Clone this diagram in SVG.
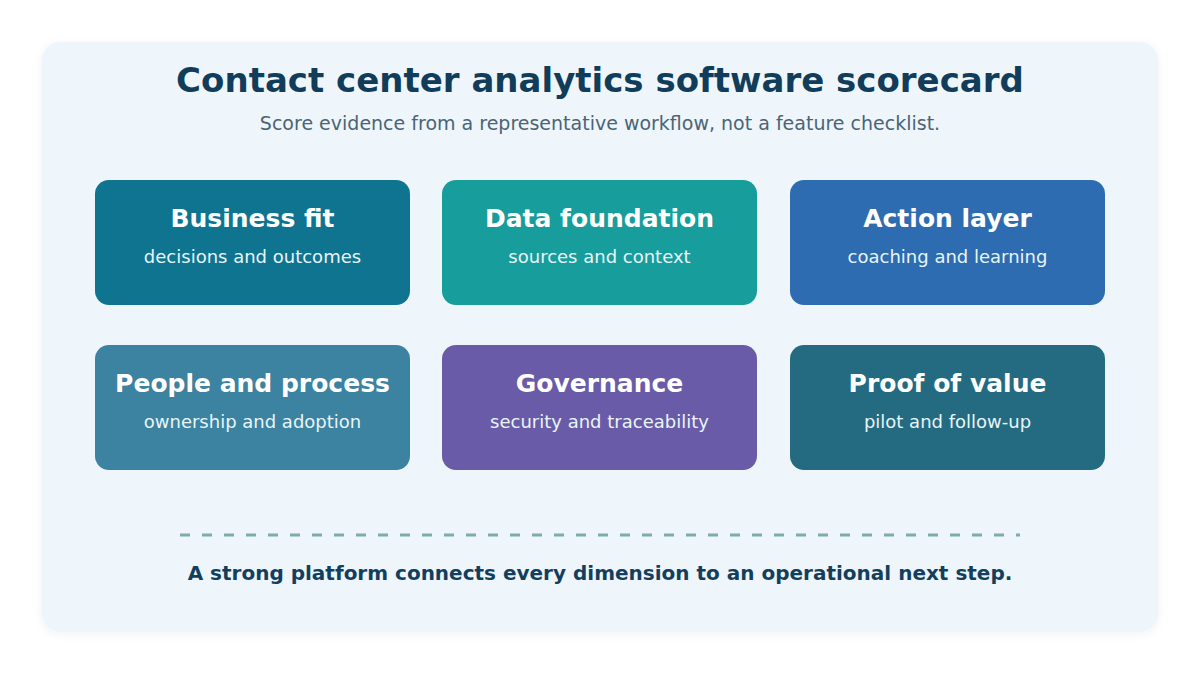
<svg xmlns="http://www.w3.org/2000/svg" width="1200" height="675" viewBox="0 0 1200 675">
  <defs>
    <filter id="sh" x="-5%" y="-5%" width="110%" height="115%">
      <feDropShadow dx="0" dy="2" stdDeviation="4" flood-color="#0f3d5c" flood-opacity="0.06"/>
    </filter>
    <style>
      text { font-family: "DejaVu Sans", "Noto Sans", sans-serif; text-anchor: middle; }
      .title { font-size: 34px; font-weight: bold; fill: #123d5a; }
      .sub { font-size: 19px; fill: #4b6474; }
      .card { rx: 14; ry: 14; }
      .ct { font-size: 25px; font-weight: bold; fill: #ffffff; }
      .cs { font-size: 18px; fill: #e8f5f8; }
      .foot { font-size: 20px; font-weight: bold; fill: #143f5c; }
    </style>
  </defs>
  <rect width="1200" height="675" fill="#ffffff"/>
  <rect x="42" y="42" width="1116" height="590" rx="18" fill="#eef6fc" filter="url(#sh)"/>
  <text class="title" x="600" y="92">Contact center analytics software scorecard</text>
  <text class="sub" x="600" y="130">Score evidence from a representative workflow, not a feature checklist.</text>

  <g id="business-fit">
    <rect class="card" x="95" y="180" width="315" height="125" fill="#0e7490"/>
    <text class="ct" x="252.5" y="227">Business fit</text>
    <text class="cs" x="252.5" y="263">decisions and outcomes</text>
  </g>
  <g id="data-foundation">
    <rect class="card" x="442" y="180" width="315" height="125" fill="#179d9b"/>
    <text class="ct" x="599.5" y="227">Data foundation</text>
    <text class="cs" x="599.5" y="263">sources and context</text>
  </g>
  <g id="action-layer">
    <rect class="card" x="790" y="180" width="315" height="125" fill="#2d6cb1"/>
    <text class="ct" x="947.5" y="227">Action layer</text>
    <text class="cs" x="947.5" y="263">coaching and learning</text>
  </g>
  <g id="people-process">
    <rect class="card" x="95" y="345" width="315" height="125" fill="#3c82a1"/>
    <text class="ct" x="252.5" y="392">People and process</text>
    <text class="cs" x="252.5" y="428">ownership and adoption</text>
  </g>
  <g id="governance">
    <rect class="card" x="442" y="345" width="315" height="125" fill="#6a5ba8"/>
    <text class="ct" x="599.5" y="392">Governance</text>
    <text class="cs" x="599.5" y="428">security and traceability</text>
  </g>
  <g id="proof-of-value">
    <rect class="card" x="790" y="345" width="315" height="125" fill="#246b81"/>
    <text class="ct" x="947.5" y="392">Proof of value</text>
    <text class="cs" x="947.5" y="428">pilot and follow-up</text>
  </g>

  <g id="connectors">
    <line x1="180" y1="535" x2="1020" y2="535" stroke="#7eaca9" stroke-width="3" stroke-dasharray="10 12"/>
  </g>
  <text class="foot" x="600" y="580">A strong platform connects every dimension to an operational next step.</text>
</svg>
